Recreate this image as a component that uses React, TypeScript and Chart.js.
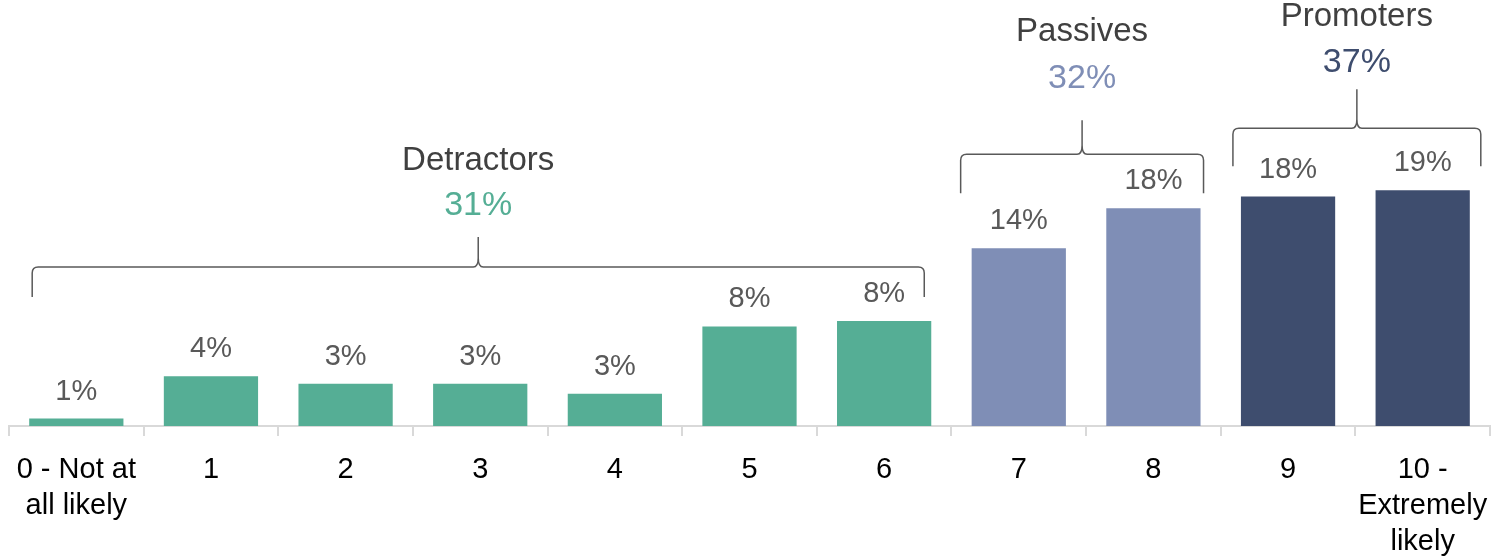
import React, { useEffect, useRef } from "react";
import { Chart, registerables } from "chart.js";

Chart.register(...registerables);

// ---- data ----
const categories: (string | string[])[] = [
  ["0 - Not at", "all likely"],
  "1",
  "2",
  "3",
  "4",
  "5",
  "6",
  "7",
  "8",
  "9",
  ["10 -", "Extremely", "likely"],
];
const shares: number[] = [0.6, 4.0, 3.4, 3.4, 2.6, 8.0, 8.45, 14.3, 17.5, 18.45, 18.95];

const groupNames: string[] = ["Detractors", "Passives", "Promoters"];
const groupTotals: number[] = [31, 32, 37];
const groupFirst: number[] = [0, 7, 9];
const groupLast: number[] = [6, 8, 10];
const groupColors: string[] = ["#55ae95", "#7f8eb6", "#3e4d6e"];

// ---- annotation styling (offsets in px relative to the group's tallest bar / outer bar edges) ----
const braceStyle = [
  { dl: 3, dr: -7, bottom: 24, horiz: 54, tip: 84, pct: 115, title: 160 },
  { dl: -11, dr: 3, bottom: 15, horiz: 54, tip: 88, pct: 130, title: 176 },
  { dl: -8, dr: 11, bottom: 24, horiz: 62, tip: 101, pct: 128, title: 173 },
];

const FONT = "'Liberation Sans', Arial, sans-serif";

function groupOf(i: number): number {
  for (let g = 0; g < groupFirst.length; g++) {
    if (i >= groupFirst[g] && i <= groupLast[g]) return g;
  }
  return 0;
}

const barColors = shares.map((_, i) => groupColors[groupOf(i)]);

function drawBrace(ctx: CanvasRenderingContext2D, left: number, right: number, bottom: number, horiz: number, tip: number) {
  const cx = (left + right) / 2;
  const r = 6;
  const r2 = 5;
  ctx.beginPath();
  ctx.moveTo(left, bottom);
  ctx.lineTo(left, horiz + r);
  ctx.quadraticCurveTo(left, horiz, left + r, horiz);
  ctx.lineTo(cx - r2, horiz);
  ctx.quadraticCurveTo(cx, horiz, cx, horiz - 9);
  ctx.lineTo(cx, tip);
  ctx.moveTo(cx, horiz - 9);
  ctx.quadraticCurveTo(cx, horiz, cx + r2, horiz);
  ctx.lineTo(right - r, horiz);
  ctx.quadraticCurveTo(right, horiz, right, horiz + r);
  ctx.lineTo(right, bottom);
  ctx.stroke();
}

const annotPlugin = {
  id: "npsAnnotations",
  afterDatasetsDraw(chart: any) {
    const ctx: CanvasRenderingContext2D = chart.ctx;
    const meta = chart.getDatasetMeta(0);
    const yScale = chart.scales.y;
    ctx.save();
    // bar value labels
    ctx.font = `29px ${FONT}`;
    ctx.fillStyle = "#595959";
    ctx.textAlign = "center";
    ctx.textBaseline = "middle";
    meta.data.forEach((bar: any, i: number) => {
      ctx.fillText(`${Math.round(shares[i])}%`, bar.x, bar.y - 27);
    });
    // braces and group labels
    for (let g = 0; g < groupNames.length; g++) {
      const st = braceStyle[g];
      const first = meta.data[groupFirst[g]];
      const last = meta.data[groupLast[g]];
      let maxV = 0;
      for (let i = groupFirst[g]; i <= groupLast[g]; i++) maxV = Math.max(maxV, shares[i]);
      const yTop = yScale.getPixelForValue(maxV);
      const left = first.x - first.width / 2 + st.dl;
      const right = last.x + last.width / 2 + st.dr;
      ctx.strokeStyle = "#595959";
      ctx.lineWidth = 1.5;
      drawBrace(ctx, left, right, yTop - st.bottom, yTop - st.horiz, yTop - st.tip);
      const cx = (left + right) / 2;
      ctx.font = `34px ${FONT}`;
      ctx.fillStyle = groupColors[g];
      ctx.fillText(`${groupTotals[g]}%`, cx, yTop - st.pct);
      ctx.font = `33px ${FONT}`;
      ctx.fillStyle = "#404040";
      ctx.fillText(groupNames[g], cx, yTop - st.title);
    }
    ctx.restore();
  },
};

export default function App() {
  const canvasRef = useRef<HTMLCanvasElement | null>(null);

  useEffect(() => {
    if (!canvasRef.current) return;
    const chart = new Chart(canvasRef.current, {
      type: "bar",
      data: {
        labels: categories,
        datasets: [
          {
            data: shares,
            backgroundColor: barColors,
            barPercentage: 0.7,
            categoryPercentage: 1,
          },
        ],
      },
      options: {
        responsive: false,
        animation: false,
        layout: { padding: { left: 9, right: 3, top: 0, bottom: 0 } },
        plugins: {
          legend: { display: false },
          tooltip: { enabled: false },
        },
        scales: {
          x: {
            grid: {
              display: true,
              drawOnChartArea: false,
              drawTicks: true,
              tickLength: 10,
              color: "#d9d9d9",
              lineWidth: 2,
              offset: true,
            },
            border: { display: true, color: "#d9d9d9", width: 2 },
            ticks: {
              color: "#000000",
              font: { family: FONT, size: 29, lineHeight: 1.24 },
              padding: 16,
              maxRotation: 0,
              autoSkip: false,
            },
            afterFit: (scale: any) => {
              scale.height = 130;
              scale.paddingLeft = 0;
              scale.paddingRight = 0;
            },
          },
          y: {
            display: false,
            min: 0,
            max: 34.25,
          },
        },
      },
      plugins: [annotPlugin],
    });
    return () => chart.destroy();
  }, []);

  return (
    <div style={{ position: "absolute", left: 0, top: 0, width: 1493, height: 556, background: "#ffffff" }}>
      <canvas ref={canvasRef} width={1493} height={556} style={{ display: "block" }} />
    </div>
  );
}
